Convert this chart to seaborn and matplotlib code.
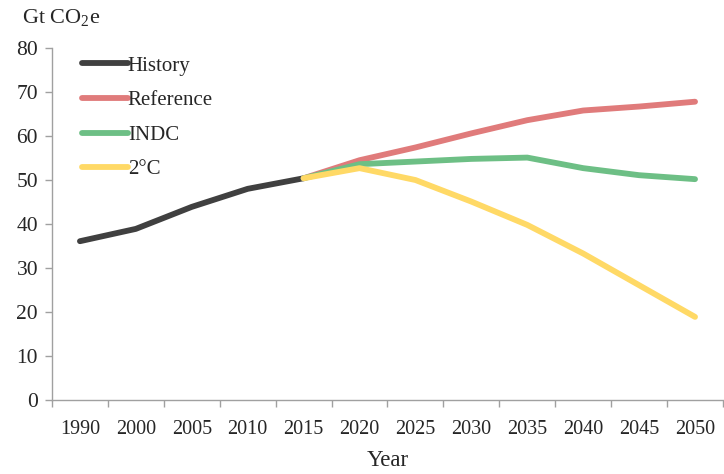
import numpy as np
import pandas as pd
import matplotlib
matplotlib.use("Agg")
import matplotlib.pyplot as plt
from matplotlib.ticker import FixedLocator
import seaborn as sns

years = ["1990", "2000", "2005", "2010", "2015", "2020", "2025",
         "2030", "2035", "2040", "2045", "2050"]

history = [36.1, 38.9, 43.9, 48.0, 50.4]
reference = [50.4, 54.5, 57.4, 60.6, 63.6, 65.8, 66.7, 67.8]
indc = [50.4, 53.6, 54.2, 54.8, 55.1, 52.7, 51.1, 50.2]
two_deg = [50.4, 52.7, 50.0, 45.1, 39.8, 33.3, 26.1, 18.9]

series_names = ["History", "Reference", "INDC", "2°C"]
series_colors = ["#404040", "#E07B7B", "#6DBF85", "#FFD966"]

rows = []
for name, vals, start in [("History", history, 0),
                          ("Reference", reference, 4),
                          ("INDC", indc, 4),
                          ("2°C", two_deg, 4)]:
    for i, v in enumerate(vals):
        rows.append({"series": name, "pos": start + i, "value": v})
df = pd.DataFrame(rows)

sns.set_style("white")
plt.rcParams["font.family"] = ["Liberation Serif", "DejaVu Serif"]
plt.rcParams["mathtext.fontset"] = "custom"
plt.rcParams["mathtext.rm"] = "Liberation Serif"

LW = 4.2

fig = plt.figure(figsize=(7.24, 4.74), dpi=100)
ax = fig.add_axes([0.0718, 0.156, 0.9268, 0.7427])

sns.lineplot(data=df, x="pos", y="value", hue="series",
             hue_order=series_names, palette=series_colors,
             linewidth=LW, ax=ax, sort=False, legend=True,
             solid_capstyle="round")

ax.set_xlim(-0.5, len(years) - 0.5)
ax.set_ylim(0, 80)
ax.set_yticks(np.arange(0, 81, 10))
ax.set_xticks(range(len(years)))
ax.set_xticklabels(years)
ax.xaxis.set_minor_locator(FixedLocator(np.arange(-0.5, len(years), 1.0)))
ax.tick_params(axis="x", which="major", bottom=False, length=0,
               labelsize=14.5, pad=14)
ax.tick_params(axis="x", which="minor", bottom=True, length=5,
               color="#A0A0A0", width=1)
ax.tick_params(axis="y", which="major", left=True, length=5,
               color="#A0A0A0", width=1, labelsize=15.5, pad=5)

for side in ["top", "right"]:
    ax.spines[side].set_visible(False)
for side in ["left", "bottom"]:
    ax.spines[side].set_color("#A0A0A0")
    ax.spines[side].set_linewidth(1)

ax.set_xlabel("Year", fontsize=16.5, labelpad=8)
ax.set_ylabel("")
fig.text(0.03, 0.962, "Gt CO$_2$e", fontsize=16, ha="left", va="center")

leg = ax.legend(loc="upper left", bbox_to_anchor=(0.0447, 0.977), frameon=False,
                fontsize=15, handlelength=2.2, handletextpad=0.0,
                labelspacing=0.72, borderaxespad=0, borderpad=0)
for line in leg.get_lines():
    line.set_linewidth(LW)
    line.set_solid_capstyle("round")

fig.savefig("out.png", dpi=100)
